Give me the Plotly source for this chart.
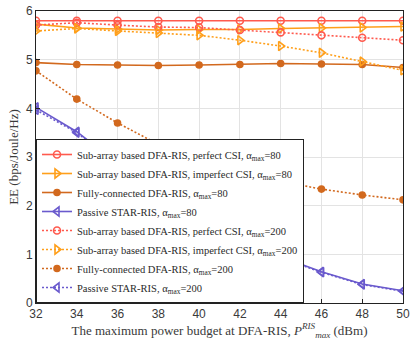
import plotly.graph_objects as go

x_dbm = [32, 34, 36, 38, 40, 42, 44, 46, 48, 50]

sub_perf_80 = [5.80, 5.80, 5.80, 5.80, 5.80, 5.80, 5.80, 5.80, 5.80, 5.80]
sub_imp_80 = [5.73, 5.65, 5.63, 5.61, 5.62, 5.62, 5.64, 5.65, 5.66, 5.68]
full_80 = [4.94, 4.90, 4.89, 4.88, 4.89, 4.90, 4.92, 4.91, 4.90, 4.84]
passive_80 = [4.02, 3.52, 2.87, 2.35, 1.82, 1.36, 0.95, 0.64, 0.39, 0.25]
sub_perf_200 = [5.71, 5.76, 5.71, 5.67, 5.66, 5.61, 5.56, 5.50, 5.45, 5.40]
sub_imp_200 = [5.59, 5.64, 5.59, 5.55, 5.50, 5.40, 5.28, 5.14, 4.96, 4.78]
full_200 = [4.77, 4.19, 3.70, 3.26, 2.93, 2.70, 2.50, 2.34, 2.22, 2.12]
passive_200 = [3.97, 3.50, 2.85, 2.33, 1.80, 1.34, 0.93, 0.63, 0.38, 0.24]

names = [
    "Sub-array based DFA-RIS, perfect CSI, α<sub>max</sub>=80",
    "Sub-array based DFA-RIS, imperfect CSI, α<sub>max</sub>=80",
    "Fully-connected DFA-RIS, α<sub>max</sub>=80",
    "Passive STAR-RIS, α<sub>max</sub>=80",
    "Sub-array based DFA-RIS, perfect CSI, α<sub>max</sub>=200",
    "Sub-array based DFA-RIS, imperfect CSI, α<sub>max</sub>=200",
    "Fully-connected DFA-RIS, α<sub>max</sub>=200",
    "Passive STAR-RIS, α<sub>max</sub>=200",
]
series = [sub_perf_80, sub_imp_80, full_80, passive_80,
          sub_perf_200, sub_imp_200, full_200, passive_200]

c_perf = "#FF5A4E"
c_imp = "#FF9F1A"
c_full = "#D2691E"
c_pass = "#6A5ACD"
colors = [c_perf, c_imp, c_full, c_pass] * 2
symbols = ["circle-open", "triangle-right-open", "circle", "triangle-left-open"] * 2
msizes = [7, 8, 6, 8] * 2
dashes = ["solid"] * 4 + ["2px,2px"] * 4

fig = go.Figure()
for nm, ys, col, sym, ms, ds in zip(names, series, colors, symbols, msizes, dashes):
    fig.add_trace(go.Scatter(
        x=x_dbm, y=ys, name=nm, mode="lines+markers",
        line=dict(color=col, width=1.6, dash=ds),
        marker=dict(symbol=sym, size=ms, color=col, line=dict(color=col, width=1.6)),
    ))

axis_common = dict(
    showline=True, linecolor="#222", linewidth=1, mirror=True,
    showgrid=True, gridcolor="#e3e3e3", gridwidth=1,
    ticks="inside", ticklen=4, tickcolor="#222",
    tickfont=dict(family="Liberation Sans, Arial", size=12, color="#3a3a3a"),
    zeroline=False, ticklabeloverflow="allow",
)

serif = "Liberation Serif, Times New Roman, serif"

fig.update_layout(
    width=414, height=345,
    margin=dict(l=36, r=4, t=9, b=42),
    paper_bgcolor="white", plot_bgcolor="white",
    xaxis=dict(range=[32, 50], tickvals=list(range(32, 51, 2)),
               title=dict(text="The maximum power budget at DFA-RIS, <i>P</i><sup><i>RIS</i></sup><sub><i>max</i></sub> (dBm)",
                          font=dict(family=serif, size=13, color="#3a3a3a"),
                          standoff=2),
               **axis_common),
    yaxis=dict(range=[0, 6], tickvals=[0, 1, 2, 3, 4, 5, 6],
               title=dict(text="EE (bps/Joule/Hz)",
                          font=dict(family=serif, size=13, color="#3a3a3a"),
                          standoff=4),
               **axis_common),
    legend=dict(x=0, y=0, xanchor="left", yanchor="bottom",
                bgcolor="white", bordercolor="#222", borderwidth=1,
                font=dict(family=serif, size=10.5, color="#2a2a2a"),
                tracegroupgap=0, itemwidth=30),
    showlegend=True,
)

fig.write_html("out.html")
